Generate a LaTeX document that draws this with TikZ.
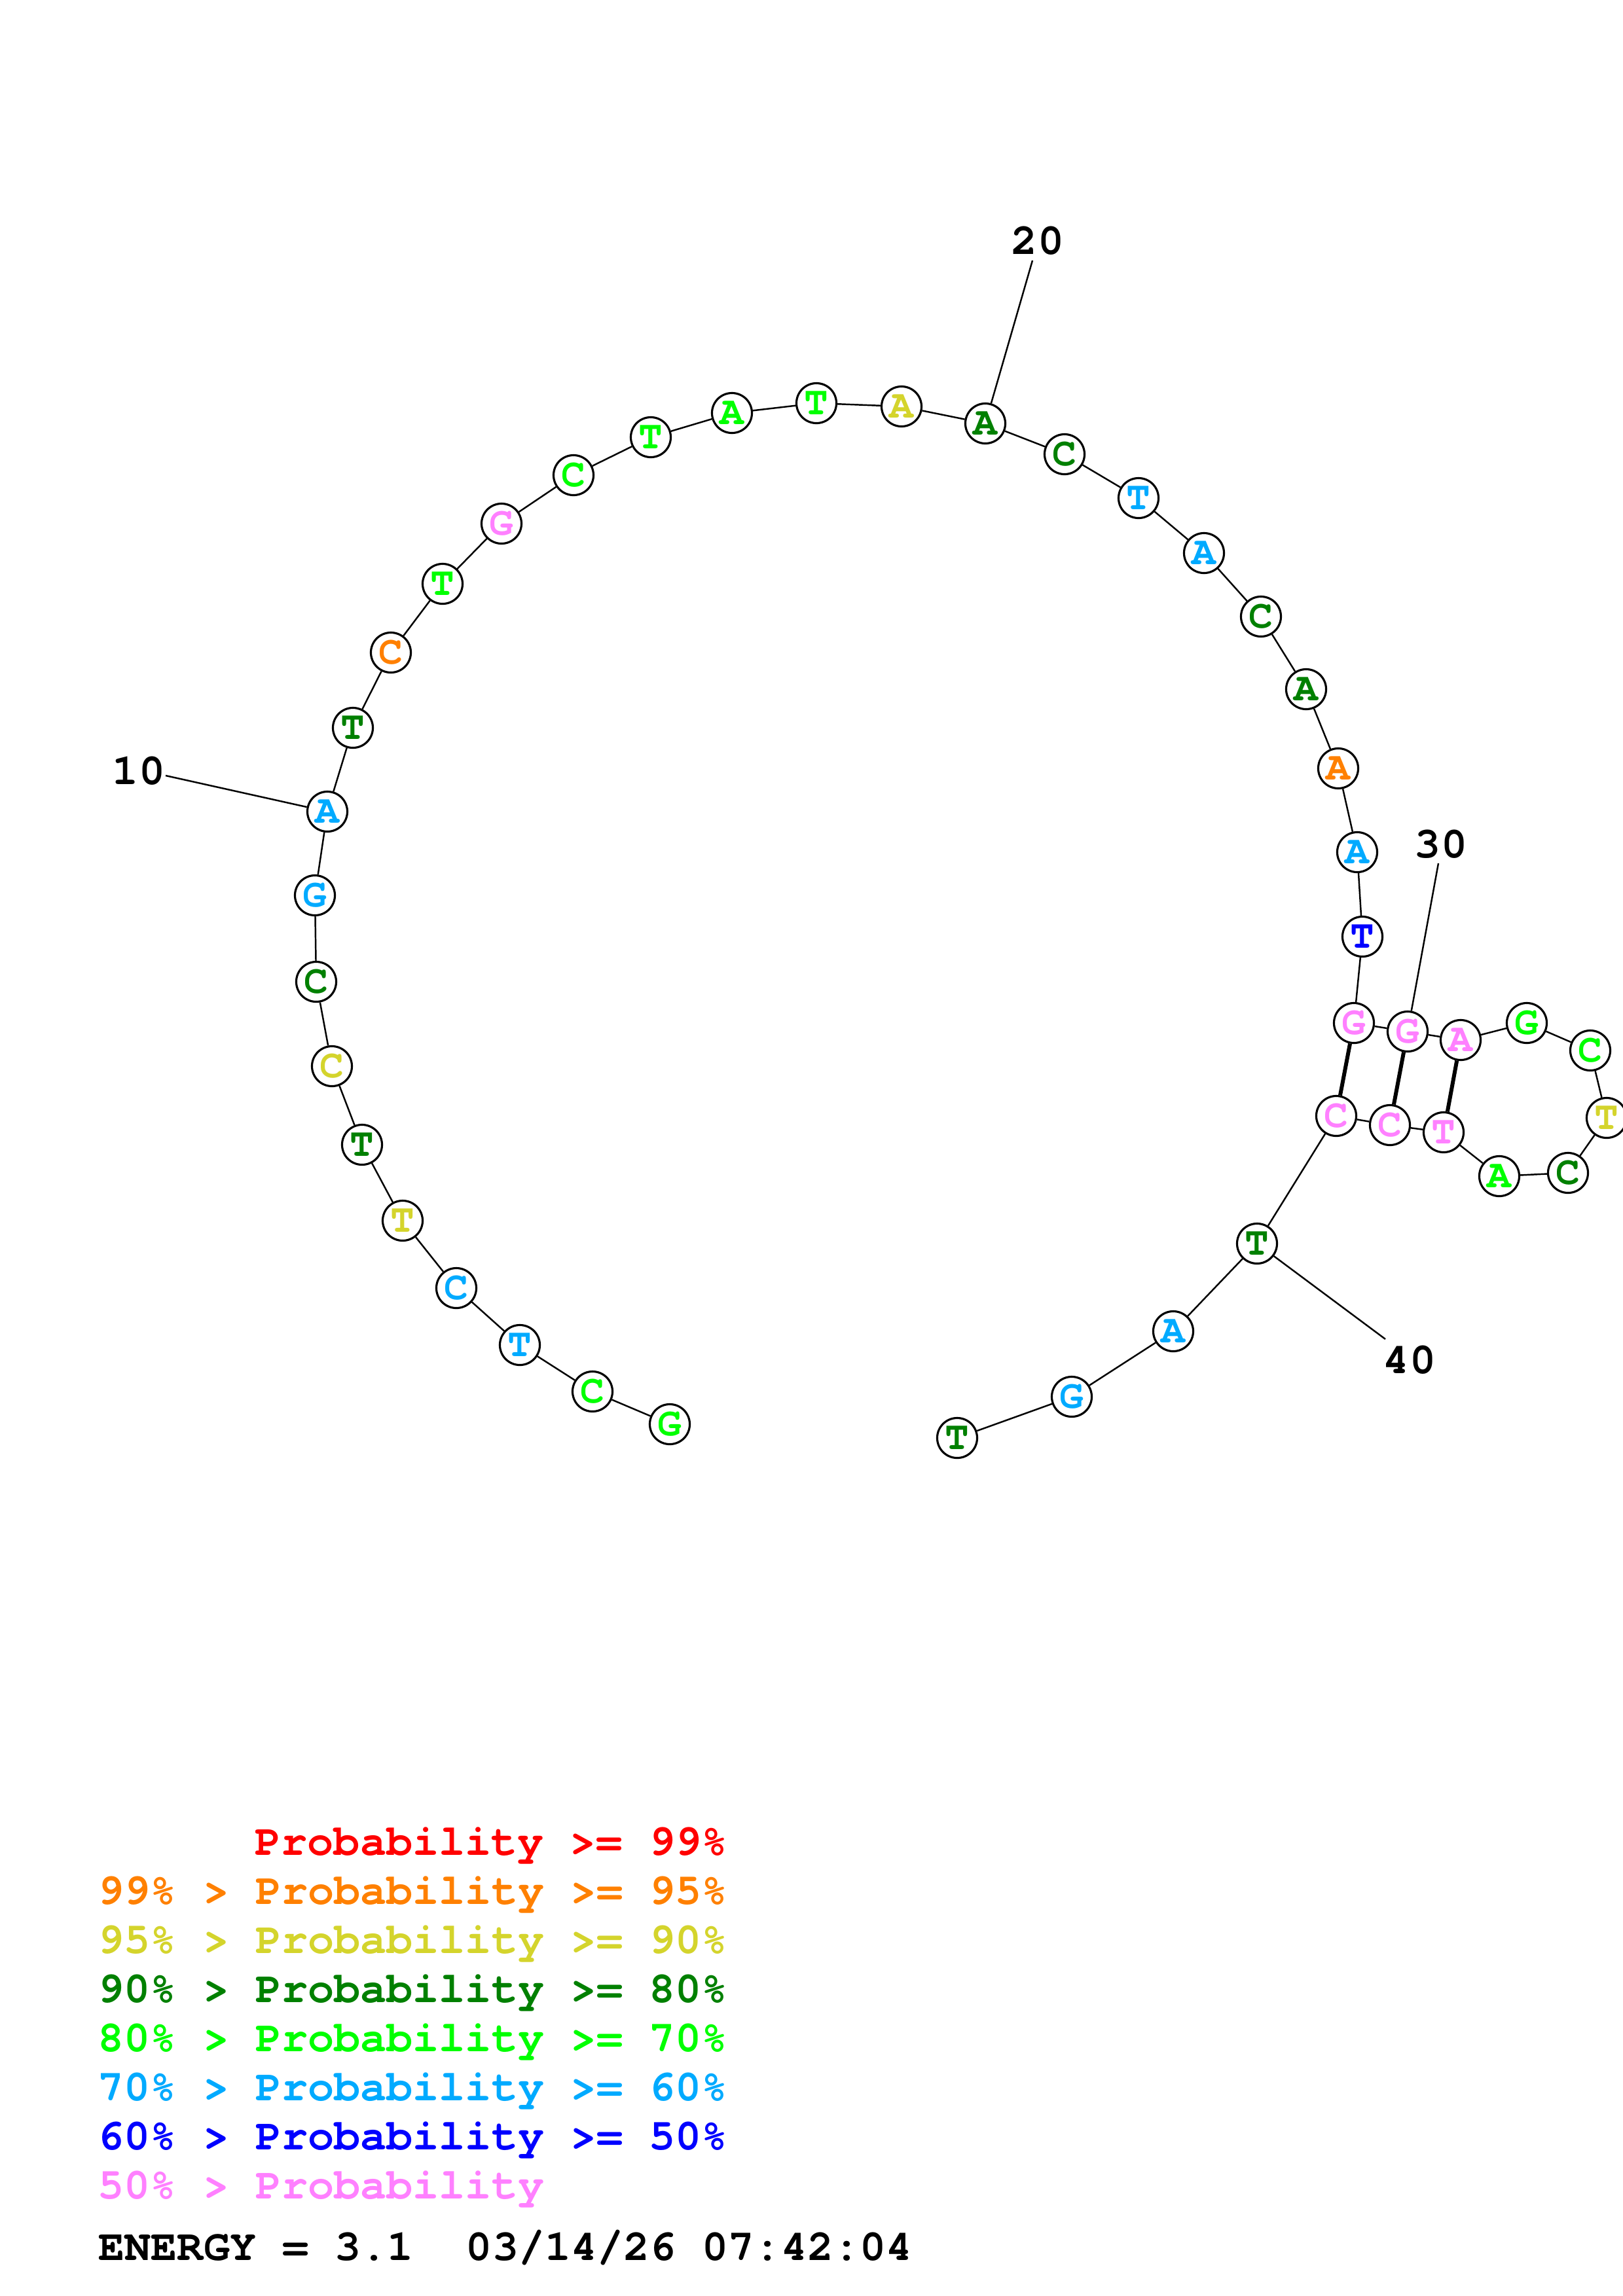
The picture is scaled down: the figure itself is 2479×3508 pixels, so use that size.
\documentclass[tikz,border=0pt]{standalone}
\usepackage{fontspec}
\newfontfamily\curfont{TeX Gyre Cursor}
\definecolor{cRed}{HTML}{FF0000}
\definecolor{cOrange}{HTML}{FF8000}
\definecolor{cYellow}{HTML}{D4D42C}
\definecolor{cDGreen}{HTML}{008000}
\definecolor{cGreen}{HTML}{00FF00}
\definecolor{cLBlue}{HTML}{00AAFF}
\definecolor{cBlue}{HTML}{0000FF}
\definecolor{cPink}{HTML}{FF80FF}
\begin{document}
\begin{tikzpicture}[x=0.01cm,y=-0.01cm,
  nt/.style={circle, draw=black, line width=0.9pt, fill=white, minimum size=0.61cm, inner sep=0pt,
    font=\curfont\bfseries\fontsize{17.4}{17.4}\selectfont},
  bb/.style={line width=0.7pt},
  pr/.style={line width=1.7pt},
  lbl/.style={inner sep=0pt, font=\curfont\bfseries\fontsize{19}{19}\selectfont},
  leg/.style={anchor=base west, inner sep=0pt, font=\curfont\bfseries\fontsize{19}{19}\selectfont}]
\fill[white] (0,0) rectangle (2479,3508);
\useasboundingbox (0,0) rectangle (2479,3508);
% nucleotides
\node[nt,text=cGreen]  (n1)  at (1023,2176) {G};
\node[nt,text=cGreen]  (n2)  at (905,2126) {C};
\node[nt,text=cLBlue]  (n3)  at (794,2055) {T};
\node[nt,text=cLBlue]  (n4)  at (697,1968) {C};
\node[nt,text=cYellow] (n5)  at (615,1865) {T};
\node[nt,text=cDGreen] (n6)  at (553,1749) {T};
\node[nt,text=cYellow] (n7)  at (507,1629) {C};
\node[nt,text=cDGreen] (n8)  at (483,1500) {C};
\node[nt,text=cLBlue]  (n9)  at (481,1368) {G};
\node[nt,text=cLBlue]  (n10) at (500,1240) {A};
\node[nt,text=cDGreen] (n11) at (539,1112) {T};
\node[nt,text=cOrange] (n12) at (597,997) {C};
\node[nt,text=cGreen]  (n13) at (676,892) {T};
\node[nt,text=cPink]   (n14) at (766,800) {G};
\node[nt,text=cGreen]  (n15) at (876,726) {C};
\node[nt,text=cGreen]  (n16) at (994,668) {T};
\node[nt,text=cGreen]  (n17) at (1118,631) {A};
\node[nt,text=cGreen]  (n18) at (1247,616) {T};
\node[nt,text=cYellow] (n19) at (1377,621) {A};
\node[nt,text=cDGreen] (n20) at (1505,647) {A};
\node[nt,text=cDGreen] (n21) at (1626,694) {C};
\node[nt,text=cLBlue]  (n22) at (1739,761) {T};
\node[nt,text=cLBlue]  (n23) at (1839,845) {A};
\node[nt,text=cDGreen] (n24) at (1926,942) {C};
\node[nt,text=cDGreen] (n25) at (1995,1053) {A};
\node[nt,text=cOrange] (n26) at (2044,1174) {A};
\node[nt,text=cLBlue]  (n27) at (2073,1302) {A};
\node[nt,text=cBlue]   (n28) at (2081,1431) {T};
\node[nt,text=cPink]   (n29) at (2068,1563) {G};
\node[nt,text=cPink]   (n30) at (2150,1576) {G};
\node[nt,text=cPink]   (n31) at (2231,1589) {A};
\node[nt,text=cGreen]  (n32) at (2332,1563) {G};
\node[nt,text=cGreen]  (n33) at (2429,1605) {C};
\node[nt,text=cYellow] (n34) at (2454,1708) {T};
\node[nt,text=cDGreen] (n35) at (2395,1792) {C};
\node[nt,text=cGreen]  (n36) at (2290,1797) {A};
\node[nt,text=cPink]   (n37) at (2205,1730) {T};
\node[nt,text=cPink]   (n38) at (2123,1719) {C};
\node[nt,text=cPink]   (n39) at (2041,1705) {C};
\node[nt,text=cDGreen] (n40) at (1920,1900) {T};
\node[nt,text=cLBlue]  (n41) at (1792,2034) {A};
\node[nt,text=cLBlue]  (n42) at (1637,2134) {G};
\node[nt,text=cDGreen] (n43) at (1462,2197) {T};
% backbone
\foreach \i [evaluate=\i as \j using int(\i+1)] in {1,...,42}
  \draw[bb] (n\i) -- (n\j);
% pairs
\draw[pr] (n29) -- (n39);
\draw[pr] (n30) -- (n38);
\draw[pr] (n31) -- (n37);
% numbering
\node[lbl] (l10) at (212,1178) {10};
\node[lbl] (l20) at (1585,368) {20};
\node[lbl] (l30) at (2201,1290) {30};
\node[lbl] (l40) at (2153,2078) {40};
\coordinate (t10) at (253,1185);
\coordinate (t20) at (1577,398);
\coordinate (t30) at (2197,1319);
\coordinate (t40) at (2116,2046);
\draw[bb] (t10) -- (n10);
\draw[bb] (t20) -- (n20);
\draw[bb] (t30) -- (n30);
\draw[bb] (n40) -- (t40);
% legend
\node[leg,text=cRed]    (g1) at (389,2834) {Probability >= 99\%};
\node[leg,text=cOrange] (g2) at (149,2909) {99\% > Probability >= 95\%};
\node[leg,text=cYellow] (g3) at (149,2984) {95\% > Probability >= 90\%};
\node[leg,text=cDGreen] (g4) at (149,3059) {90\% > Probability >= 80\%};
\node[leg,text=cGreen]  (g5) at (149,3134) {80\% > Probability >= 70\%};
\node[leg,text=cLBlue]  (g6) at (149,3209) {70\% > Probability >= 60\%};
\node[leg,text=cBlue]   (g7) at (149,3284) {60\% > Probability >= 50\%};
\node[leg,text=cPink]   (g8) at (149,3359) {50\% > Probability};
\node[leg,text=black]   (en) at (150,3453) {ENERGY = 3.1~~03/14/26 07:42:04};
\end{tikzpicture}
\end{document}
